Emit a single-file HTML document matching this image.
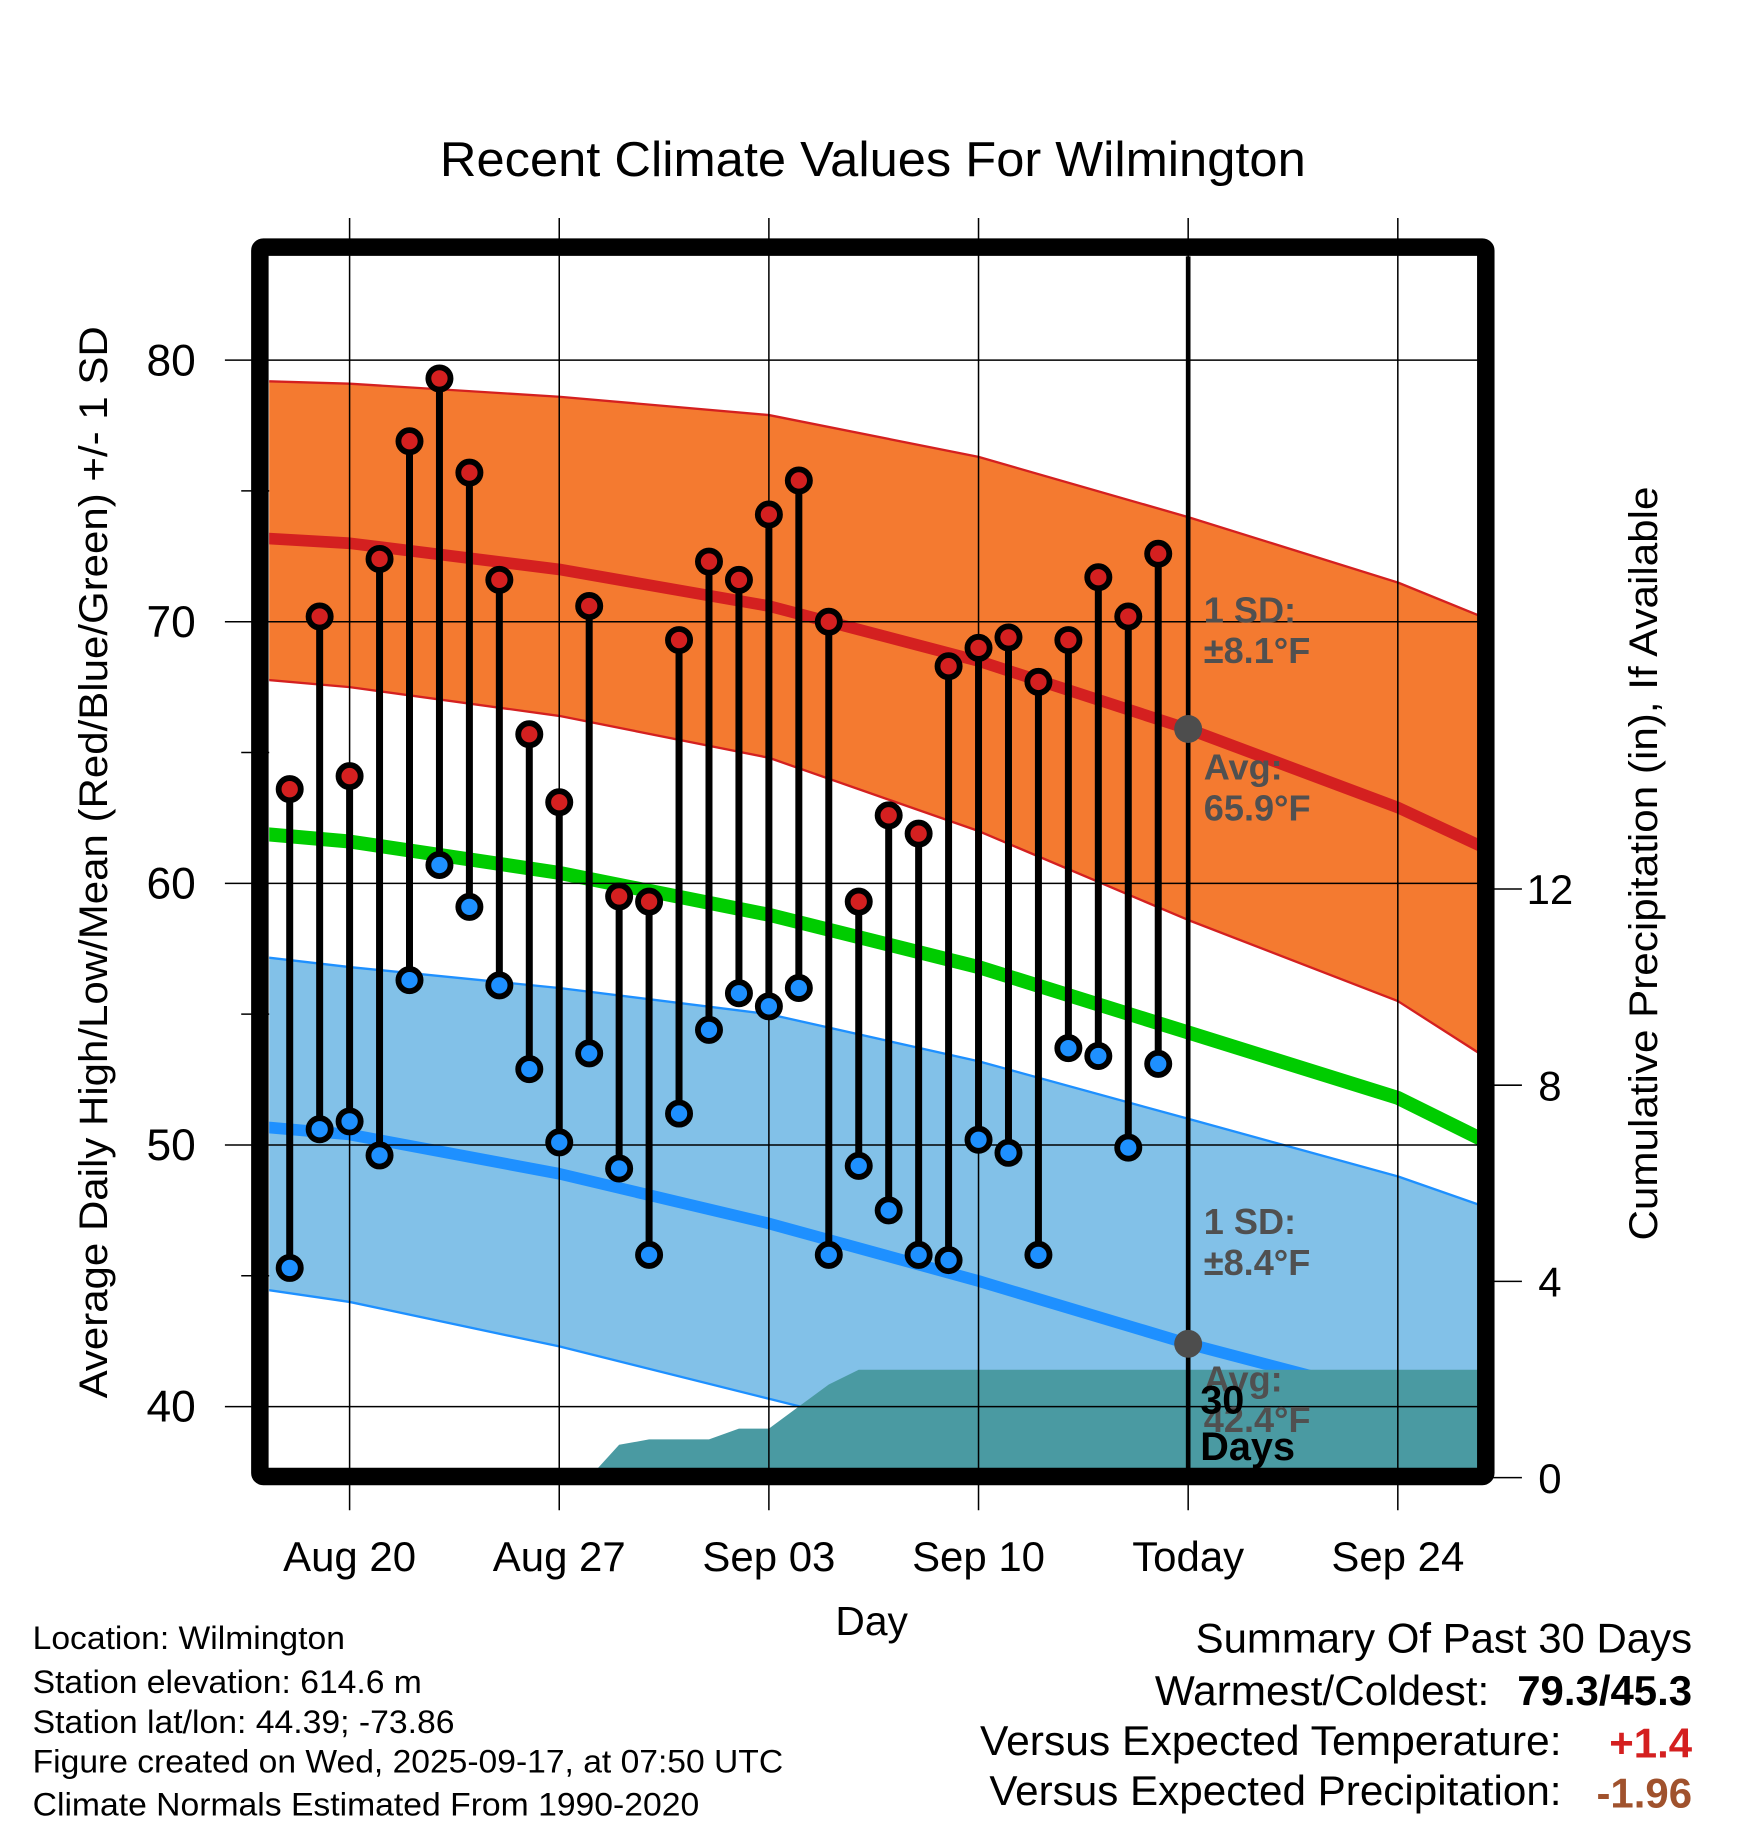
<!DOCTYPE html>
<html><head><meta charset="utf-8"><style>
html,body{margin:0;padding:0;background:#fff}
svg{display:block}
text{font-family:"Liberation Sans",sans-serif}
</style></head><body>
<svg id="chart" width="1748" height="1828" viewBox="0 0 1500 1568.6">
<g id="layer"></g>
</svg>
<script>
const obsDays=[-2,-1,0,1,2,3,4,5,6,7,8,9,10,11,12,13,14,15,16,17,18,19,20,21,22,23,24,25,26,27];
const highs=[63.6,70.2,64.1,72.4,76.9,79.3,75.7,71.6,65.7,63.1,70.6,59.5,59.3,69.3,72.3,71.6,74.1,75.4,70.0,59.3,62.6,61.9,68.3,69.0,69.4,67.7,69.3,71.7,70.2,72.6];
const lows=[45.3,50.6,50.9,49.6,56.3,60.7,59.1,56.1,52.9,50.1,53.5,49.1,45.8,51.2,54.4,55.8,55.3,56.0,45.8,49.2,47.5,45.8,45.6,50.2,49.7,45.8,53.7,53.4,49.9,53.1];
const precip=[0,0,0,0,0,0,0,0,0,0,0,0.67,0.78,0.78,0.78,1.0,1.0,1.45,1.9,2.2,2.2,2.2,2.2,2.2,2.2,2.2,2.2,2.2,2.2,2.2];
const normDays=[-3,0,7,14,21,28,35,38];
const avgHigh=[73.2,73.0,72.0,70.6,68.5,65.9,62.9,61.3];
const upperHigh=[79.2,79.1,78.6,77.9,76.3,74.0,71.5,70.1];
const lowerHigh=[67.8,67.5,66.4,64.8,62.0,58.6,55.5,53.3];
const meanT=[61.9,61.6,60.4,58.8,56.8,54.3,51.8,50.1];
const avgLow=[50.7,50.4,48.9,47.0,44.8,42.4,40.3,38.8];
const upperLow=[57.2,56.8,56.0,55.0,53.2,51.0,48.8,47.6];
const lowerLow=[44.5,44.0,42.3,40.3,38.3,36.3,34.5,33.5];
const xTickDays=[0,7,14,21,28,35];
const xTickLabels=["Aug 20","Aug 27","Sep 03","Sep 10","Today","Sep 24"];
const yTicks=[40,50,60,70,80];
const pTicks=[0,4,8,12];

const X=d=>300+d*25.7;
const Y=t=>309+(80-t)*22.45;
const P=p=>1268-p*42.1;
const L=231,R=1268,T=220,B=1260;
const NS="http://www.w3.org/2000/svg";
const svg=document.getElementById('chart');
function el(tag,attrs,parent){const e=document.createElementNS(NS,tag);for(const k in attrs)e.setAttribute(k,attrs[k]);(parent||svg).appendChild(e);return e;}
function txt(s,attrs){const e=el('text',attrs);e.textContent=s;return e;}
const defs=el('defs',{});
const cp=el('clipPath',{id:'clip'},defs);el('rect',{x:L,y:T,width:R-L,height:B-T},cp);
const g=el('g',{'clip-path':'url(#clip)'});
function pts(arr){return normDays.map((d,i)=>X(d)+','+Y(arr[i])).join(' ');}
function band(up,lo,fill,name){
  const poly=el('polygon',{points:pts(up)+' '+normDays.slice().reverse().map((d,i)=>X(d)+','+Y(lo[lo.length-1-i])).join(' '),fill:fill},g);
  
}
function line(arr,color,w,name){const p=el('polyline',{points:pts(arr),fill:'none',stroke:color,'stroke-width':w,'stroke-linejoin':'round'},g);}
band(upperHigh,lowerHigh,'#f47a30','high-sd-band');
line(upperHigh,'#d42020',2,'high-sd-upper');line(lowerHigh,'#d42020',2,'high-sd-lower');
band(upperLow,lowerLow,'#82c1e8','low-sd-band');
line(upperLow,'#1e90ff',2,'low-sd-upper');line(lowerLow,'#1e90ff',2,'low-sd-lower');
line(avgHigh,'#d42020',10,'avg-high-line');
line(meanT,'#00cc00',12,'mean-line');
line(avgLow,'#1e90ff',10,'avg-low-line');
let pp=obsDays.map((d,i)=>X(d)+','+P(precip[i]));
pp.push(X(40)+','+P(precip[precip.length-1]));pp.push(X(40)+','+P(0));pp.push(X(-3)+','+P(0));
const pa=el('polygon',{points:pp.join(' '),fill:'#4a9aa2'},g);

xTickDays.forEach(d=>{el('line',{x1:X(d),x2:X(d),y1:187,y2:1296,stroke:'#000','stroke-width':1.3});});
yTicks.forEach(t=>{el('line',{x1:193,x2:R,y1:Y(t),y2:Y(t),stroke:'#000','stroke-width':1.3});});
[45,55,65,75].forEach(t=>{el('line',{x1:207,x2:L,y1:Y(t),y2:Y(t),stroke:'#000','stroke-width':1.3});});
pTicks.forEach(p=>{el('line',{x1:1280,x2:1306,y1:P(p),y2:P(p),stroke:'#000','stroke-width':1.3});
  const t=txt(String(p),{x:1330,y:P(p)+13,'font-size':36,'text-anchor':'middle'});});
yTicks.forEach(t=>{const e=txt(String(t),{x:168,y:Y(t)+13,'font-size':38,'text-anchor':'end'});});
xTickDays.forEach((d,i)=>{const e=txt(xTickLabels[i],{x:X(d),y:1348,'font-size':36,'text-anchor':'middle'});});
const lab=[['1 SD:',530],['±8.1°F',565],['Avg:',665],['65.9°F',700],['1 SD:',1055],['±8.4°F',1090],['Avg:',1190],['42.4°F',1225]];
lab.forEach(a=>{const e=txt(a[0],{x:1033,y:a[1]+4,'font-size':31,'font-weight':'bold',fill:'#505050'});});
el('line',{x1:X(28),x2:X(28),y1:T,y2:B,stroke:'#000','stroke-width':4});
const c1=el('circle',{cx:X(28),cy:Y(avgHigh[5]),r:12,fill:'#4d4d4d'});
const c2=el('circle',{cx:X(28),cy:Y(avgLow[5]),r:12,fill:'#4d4d4d'});
[['30',1210],['Days',1250]].forEach(a=>{const e=txt(a[0],{x:1030,y:a[1]+3,'font-size':34,'font-weight':'bold'});});
obsDays.forEach((d,i)=>{
  const ln=el('line',{x1:X(d),x2:X(d),y1:Y(highs[i]),y2:Y(lows[i]),stroke:'#000','stroke-width':6});
  
});
obsDays.forEach((d,i)=>{
  const h=el('circle',{cx:X(d),cy:Y(highs[i]),r:9.5,fill:'#d42020',stroke:'#000','stroke-width':5});
  
  const l=el('circle',{cx:X(d),cy:Y(lows[i]),r:9.5,fill:'#1e90ff',stroke:'#000','stroke-width':5});
  
});
const fr=el('rect',{x:223,y:212,width:1052,height:1055,fill:'none',stroke:'#000','stroke-width':15,rx:3});

function T2(s,a,name,len){if(len){a.textLength=len;a.lengthAdjust='spacingAndGlyphs';}const e=txt(s,a);return e;}
T2('Recent Climate Values For Wilmington',{x:749,y:151,'font-size':42,'text-anchor':'middle'},'chart-title',743);
T2('Day',{x:748,y:1403,'font-size':35,'text-anchor':'middle'},'x-axis-title');
T2('Average Daily High/Low/Mean (Red/Blue/Green) +/- 1 SD',{x:0,y:0,'font-size':34,'text-anchor':'middle',transform:'translate(92,740) rotate(-90)'},'y-axis-title',920);
T2('Cumulative Precipitation (in), If Available',{x:0,y:0,'font-size':34,'text-anchor':'middle',transform:'translate(1422,741) rotate(-90)'},'precip-axis-title',647);
[['Location: Wilmington',1415,268],['Station elevation: 614.6 m',1453,334],['Station lat/lon: 44.39; -73.86',1487,362],['Figure created on Wed, 2025-09-17, at 07:50 UTC',1521,644],['Climate Normals Estimated From 1990-2020',1558,572]].forEach(a=>T2(a[0],{x:28,y:a[1],'font-size':28},'station-info',a[2]));
T2('Summary Of Past 30 Days',{x:1452,y:1418,'font-size':36,'text-anchor':'end'},'summary-title',426);
T2('Warmest/Coldest:',{x:1278,y:1463,'font-size':36,'text-anchor':'end'},'warmest-label',287);
T2('79.3/45.3',{x:1452,y:1463,'font-size':36,'font-weight':'bold','text-anchor':'end'},'warmest-value',150);
T2('Versus Expected Temperature:',{x:1340,y:1506,'font-size':36,'text-anchor':'end'},'temp-anomaly-label',499);
T2('+1.4',{x:1452,y:1508,'font-size':36,'font-weight':'bold','text-anchor':'end',fill:'#d42020'},'temp-anomaly-value');
T2('Versus Expected Precipitation:',{x:1340,y:1549,'font-size':36,'text-anchor':'end'},'precip-anomaly-label',491);
T2('-1.96',{x:1452,y:1551,'font-size':36,'font-weight':'bold','text-anchor':'end',fill:'#a0522d'},'precip-anomaly-value');
</script>
</body></html>
